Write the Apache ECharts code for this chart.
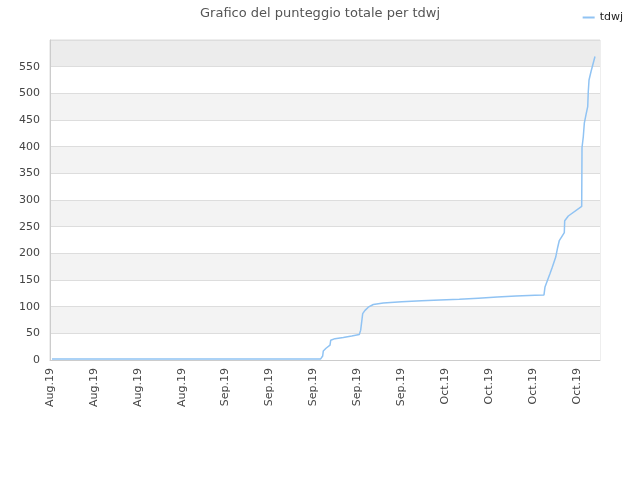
<!DOCTYPE html>
<html><head><meta charset="utf-8">
<script src="https://cdn.jsdelivr.net/npm/echarts@6/dist/echarts.min.js"></script>
<style>html,body{margin:0;padding:0;background:#fff}#c{width:640px;height:480px}</style>
</head><body><div id="c"></div>
<script>
// day index (from first tick) and cumulative score
const days = [0.32, 43.16, 43.48, 43.58, 44.01, 44.65, 44.76, 45.44, 46.77, 48.11, 49.32, 49.54, 49.86, 50.23, 50.75, 51.55, 53.15, 56.08, 59.27, 62.19, 65.27, 68.29, 71.32, 74.31, 77.34, 78.77, 78.93, 79.73, 80.09, 80.64, 80.95, 81.21, 82.01, 82.07, 82.65, 84.78, 84.83, 85.04, 85.2, 85.47, 85.74, 85.83, 85.95, 86.27, 86.9];
const scores = [2, 2, 7.5, 17, 22, 28, 37, 40, 42, 45, 48, 56, 87, 93, 99, 104, 107, 109, 111, 112.5, 114, 116, 118, 120, 121.5, 122, 137, 162, 174, 193, 211, 224, 239, 261, 270, 288, 398, 419, 444, 460, 475, 503, 525, 541, 569];
const tickLabels = ['Aug.19','Aug.19','Aug.19','Aug.19','Sep.19','Sep.19','Sep.19','Sep.19','Sep.19','Oct.19','Oct.19','Oct.19','Oct.19'];
const seriesName = 'tdwj';
const titleText = 'Grafico del punteggio totale per tdwj';

const bandColors = ['#ffffff','#f3f3f3','#ffffff','#f3f3f3','#ffffff','#f3f3f3','#ffffff','#f3f3f3','#ffffff','#f3f3f3','#ffffff','#ececec'];

const chart = echarts.init(document.getElementById('c'), null, {renderer:'canvas'});
chart.setOption({
  animation:false,
  textStyle:{fontFamily:'DejaVu Sans'},
  title:{text:titleText,left:'center',top:2,textStyle:{fontSize:13,fontWeight:'normal',color:'#555',fontFamily:'DejaVu Sans'}},
  legend:{right:12,top:7,icon:'rect',itemWidth:12,itemHeight:2,itemGap:6,textStyle:{fontSize:11,color:'#222',fontFamily:'DejaVu Sans'},data:[seriesName]},
  grid:{left:50,right:40,top:40,bottom:120,show:true,borderColor:'#ddd',borderWidth:1,containLabel:false},
  xAxis:{type:'value',min:0,max:87.7,interval:7,
    axisLine:{show:true,lineStyle:{color:'#ccc'}},axisTick:{show:false},splitLine:{show:false},
    axisLabel:{rotate:90,fontSize:11,color:'#444',margin:8,showMaxLabel:false,
      formatter:v=>{const i=Math.round(v/7);return (Math.abs(v-i*7)<0.01 && tickLabels[i])?tickLabels[i]:'';}}},
  yAxis:{type:'value',min:0,max:600,interval:50,
    axisLine:{show:true,lineStyle:{color:'#ccc'}},axisTick:{show:false},
    splitLine:{show:true,lineStyle:{color:'#ddd'}},
    splitArea:{show:true,areaStyle:{color:bandColors}},
    axisLabel:{fontSize:11,color:'#444',margin:10,showMaxLabel:false}},
  series:[{name:seriesName,type:'line',symbol:'none',
    lineStyle:{color:'#90c3f3',width:1.5},itemStyle:{color:'#90c3f3'},
    data:days.map((d,i)=>[d,scores[i]])
  }]
});
</script></body></html>
